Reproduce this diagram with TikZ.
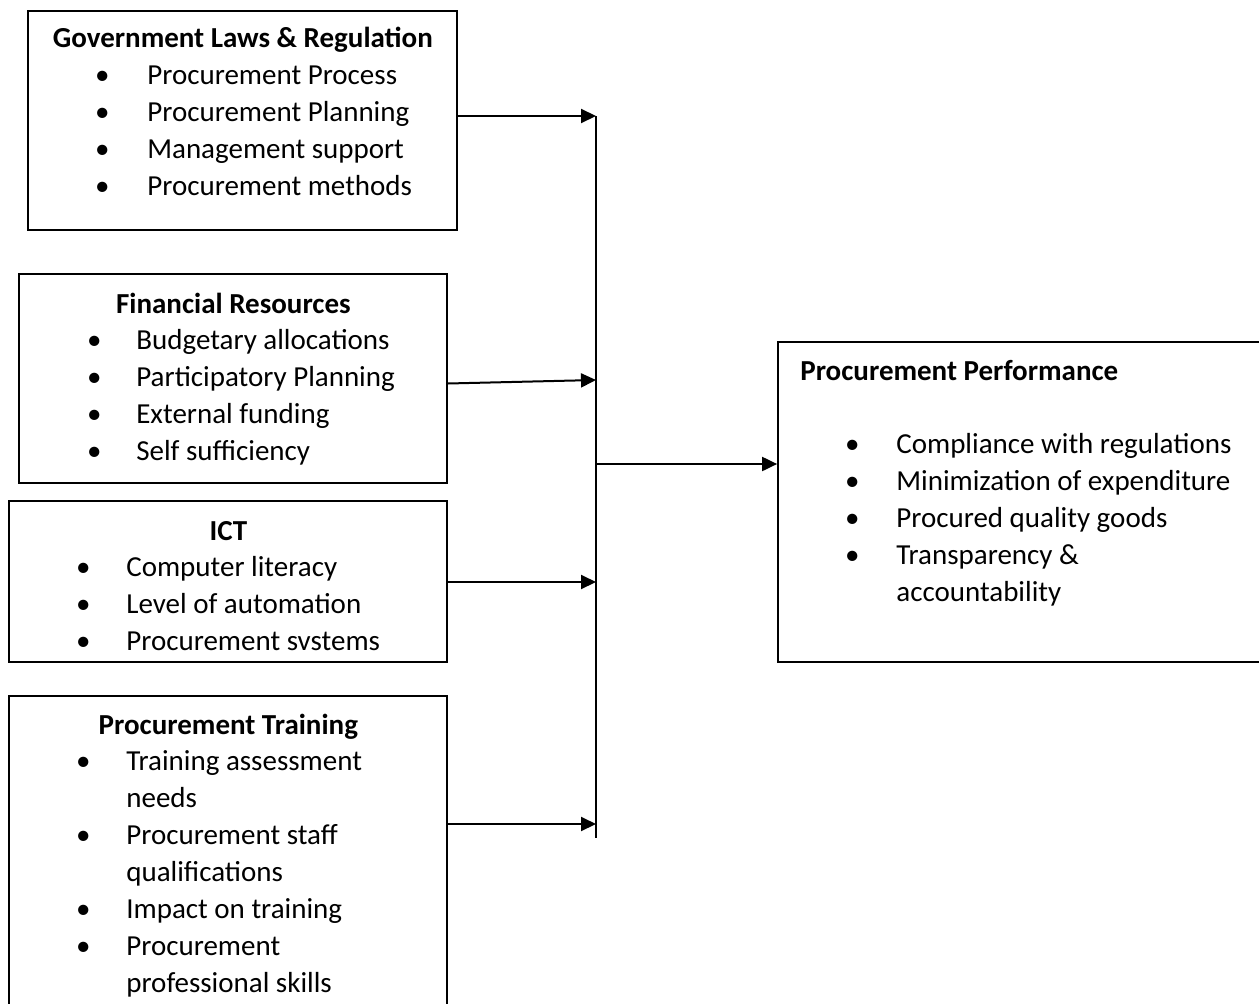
\documentclass[tikz,border=0pt]{standalone}
\usepackage{fontspec}
\setmainfont{Carlito}
\usetikzlibrary{arrows.meta,positioning,fit,calc}

% one unit = one pixel of the layout grid
\newlength\px \setlength\px{0.2mm}
\newlength\bx \newlength\tx
% bullet item: bullet centred at \bx, text starting at \tx
\newcommand\itm[1]{\makebox[\tx][l]{\hspace*{\bx}\makebox[0pt]{\textbullet}}#1}
% continuation line of an item
\newcommand\cnt[1]{\hspace*{\tx}#1}

\tikzset{
  box/.style={draw, line width=0.35mm, inner sep=0pt},
  list/.style={anchor=base west, inner sep=0pt, font={\fontsize{16.5}{21}\selectfont}},
  arr/.style={-{Triangle[length=3mm,width=2.8mm]}, line width=0.4mm},
  bar/.style={line width=0.35mm}
}

\begin{document}
\begin{tikzpicture}[x=0.2mm,y=-0.2mm]
\useasboundingbox (0,0) rectangle (1259,1003);

% the five boxes
\node[box, fit={(28,11)(457,230)}] (gov) {};
\node[box, fit={(19,274)(447,483)}] (fin) {};
\node[box, fit={(9,501)(447,662)}] (ict) {};
\node[box, fit={(9,696)(447,1020)}] (train) {};
\node[box, fit={(778,342)(1270,662)}] (perf) {};

% contents
\node[list] (govlist) at (28,48) {\setlength\bx{74\px}\setlength\tx{119\px}%
  \begin{tabular}[t]{@{}l@{}}
  \makebox[429\px]{\bfseries Government Laws \& Regulation}\\
  \itm{Procurement Process}\\
  \itm{Procurement Planning}\\
  \itm{Management support}\\
  \itm{Procurement methods}
  \end{tabular}};
\node[list] (finlist) at (19,313) {\setlength\bx{75\px}\setlength\tx{117\px}%
  \begin{tabular}[t]{@{}l@{}}
  \makebox[428\px]{\bfseries Financial Resources}\\
  \itm{Budgetary allocations}\\
  \itm{Participatory Planning}\\
  \itm{External funding}\\
  \itm{Self sufficiency}
  \end{tabular}};
\node[list] (ictlist) at (9,540) {\setlength\bx{74\px}\setlength\tx{117\px}%
  \begin{tabular}[t]{@{}l@{}}
  \makebox[438\px]{\bfseries ICT}\\
  \itm{Computer literacy}\\
  \itm{Level of automation}\\
  \itm{Procurement svstems}
  \end{tabular}};
\node[list] (trainlist) at (9,734) {\setlength\bx{74\px}\setlength\tx{117\px}%
  \begin{tabular}[t]{@{}l@{}}
  \makebox[438\px]{\bfseries Procurement Training}\\
  \itm{Training assessment}\\
  \cnt{needs}\\
  \itm{Procurement staff}\\
  \cnt{qualifications}\\
  \itm{Impact on training}\\
  \itm{Procurement}\\
  \cnt{professional skills}
  \end{tabular}};
\node[list] (perflist) at (778,380) {\setlength\bx{74\px}\setlength\tx{118\px}%
  \begin{tabular}[t]{@{}l@{}}
  \hspace*{22\px}\textbf{Procurement Performance}\\
  \\
  \itm{Compliance with regulations}\\
  \itm{Minimization of expenditure}\\
  \itm{Procured quality goods}\\
  \itm{Transparency \&}\\
  \cnt{accountability}
  \end{tabular}};

% collecting line and arrows
\coordinate (bartop) at (596,116);
\coordinate (barbot) at (596,838);
\coordinate (in2) at (596,380);
\coordinate (in3) at (596,582);
\coordinate (in4) at (596,824);
\coordinate (hub) at (596,464);
\draw[bar] (bartop) -- (barbot);
\draw[arr] (bartop -| gov.east) -- (bartop);
\draw[arr] ([yshift=-1mm]fin.east) -- (in2);
\draw[arr] (in3 -| ict.east) -- (in3);
\draw[arr] (in4 -| train.east) -- (in4);
\draw[arr] (hub) -- (hub -| perf.west);
\end{tikzpicture}
\end{document}
